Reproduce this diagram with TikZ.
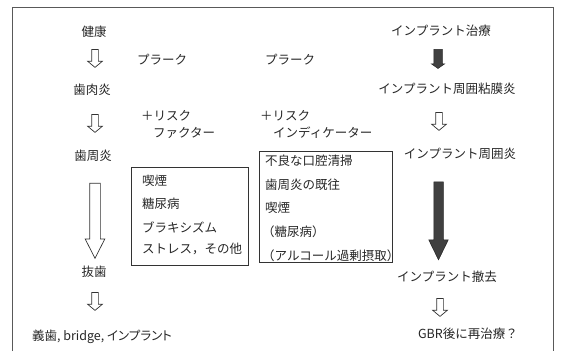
\documentclass[tikz,border=0pt]{standalone}
\usepackage{fontspec}
\setmainfont{Noto Sans CJK JP}
\usetikzlibrary{shapes.arrows}
\begin{document}
\begin{tikzpicture}[x=1pt,y=-1pt,
  lbl/.style={font=\fontsize{12.5}{14}\selectfont, text=black!85, inner sep=0pt},
  itm/.style={lbl, anchor=west},
  harrow/.style={single arrow, draw=black!80, fill=white, line width=0.7pt, rotate=-90, inner xsep=0pt, minimum size=0pt},
  darrow/.style={single arrow, draw=black!85, fill=black!75, line width=0.5pt, rotate=-90, inner xsep=0pt, minimum size=0pt},
  small/.style={minimum height=18pt, inner ysep=3pt, single arrow head extend=4pt, single arrow tip angle=100},
  box/.style={draw=black!80, line width=0.7pt, anchor=north west, inner sep=0pt}]
\useasboundingbox (0,0) rectangle (561,351);
\draw[black!65, line width=0.8pt] (12,351) -- (12,7) -- (553,7) -- (553,351);

% left column
\node[lbl] (kenko) at (94,32) {健康};
\node[lbl] (shiniku) at (92,90) {歯肉炎};
\node[lbl] (shishu) at (93,156) {歯周炎};
\node[lbl] (basshi) at (94,272) {抜歯};
\node[lbl] (gishi) at (102,337) {\addfontfeatures{RawFeature=+palt}義歯, bridge, インプラント};

\node[harrow, small] (la1) at (95,57) {};
\node[harrow, small] (la2) at (95,122) {};
\node[harrow, minimum height=75pt, inner ysep=5pt, single arrow head extend=4.5pt, single arrow tip angle=54] (lbig) at (95,215.5) {};
\node[harrow, small] (la3) at (95,300) {};

% middle
\node[itm] (pl1) at (137,60) {プラーク};
\node[itm] (pl2) at (265,60) {プラーク};
\node[itm] (rf1) at (141,116) {＋リスク};
\node[itm] (rf2) at (153,133) {ファクター};
\node[itm] (ri1) at (260,116) {＋リスク};
\node[itm] (ri2) at (273,133) {インディケーター};

\node[box, minimum width=117pt, minimum height=98pt] (box1) at (131,167) {};
\node[itm] (b11) at (142,181) {喫煙};
\node[itm] (b12) at (142,204) {糖尿病};
\node[itm] (b13) at (142,227) {ブラキシズム};
\node[itm] (b14) at (142,249) {ストレス，その他};

\node[box, minimum width=133pt, minimum height=111pt] (box2) at (259,151) {};
\node[itm] (b21) at (265,161) {不良な口腔清掃};
\node[itm] (b22) at (265,185) {歯周炎の既往};
\node[itm] (b23) at (265,208) {喫煙};
\node[itm] (b24) at (262,232) {（糖尿病）};
\node[itm] (b25) at (262,256) {（アルコール過剰摂取）};

% right column
\node[lbl] (tiryo) at (441,31) {インプラント治療};
\node[lbl] (nenmaku) at (447,89) {インプラント周囲粘膜炎};
\node[lbl] (shui) at (460,154) {インプラント周囲炎};
\node[lbl] (tekkyo) at (447,277) {インプラント撤去};
\node[lbl] (gbr) at (468,334) {GBR後に再治療？};

\node[darrow, minimum height=19pt, inner ysep=4pt, single arrow head extend=2.5pt, single arrow tip angle=110] (ra1) at (438,57.5) {};
\node[harrow, small] (ra2) at (439,120) {};
\node[darrow, minimum height=78pt, inner ysep=4.5pt, single arrow head extend=5pt, single arrow tip angle=52] (rbig) at (438.5,216) {};
\node[harrow, small] (ra3) at (440,306) {};
\end{tikzpicture}
\end{document}
